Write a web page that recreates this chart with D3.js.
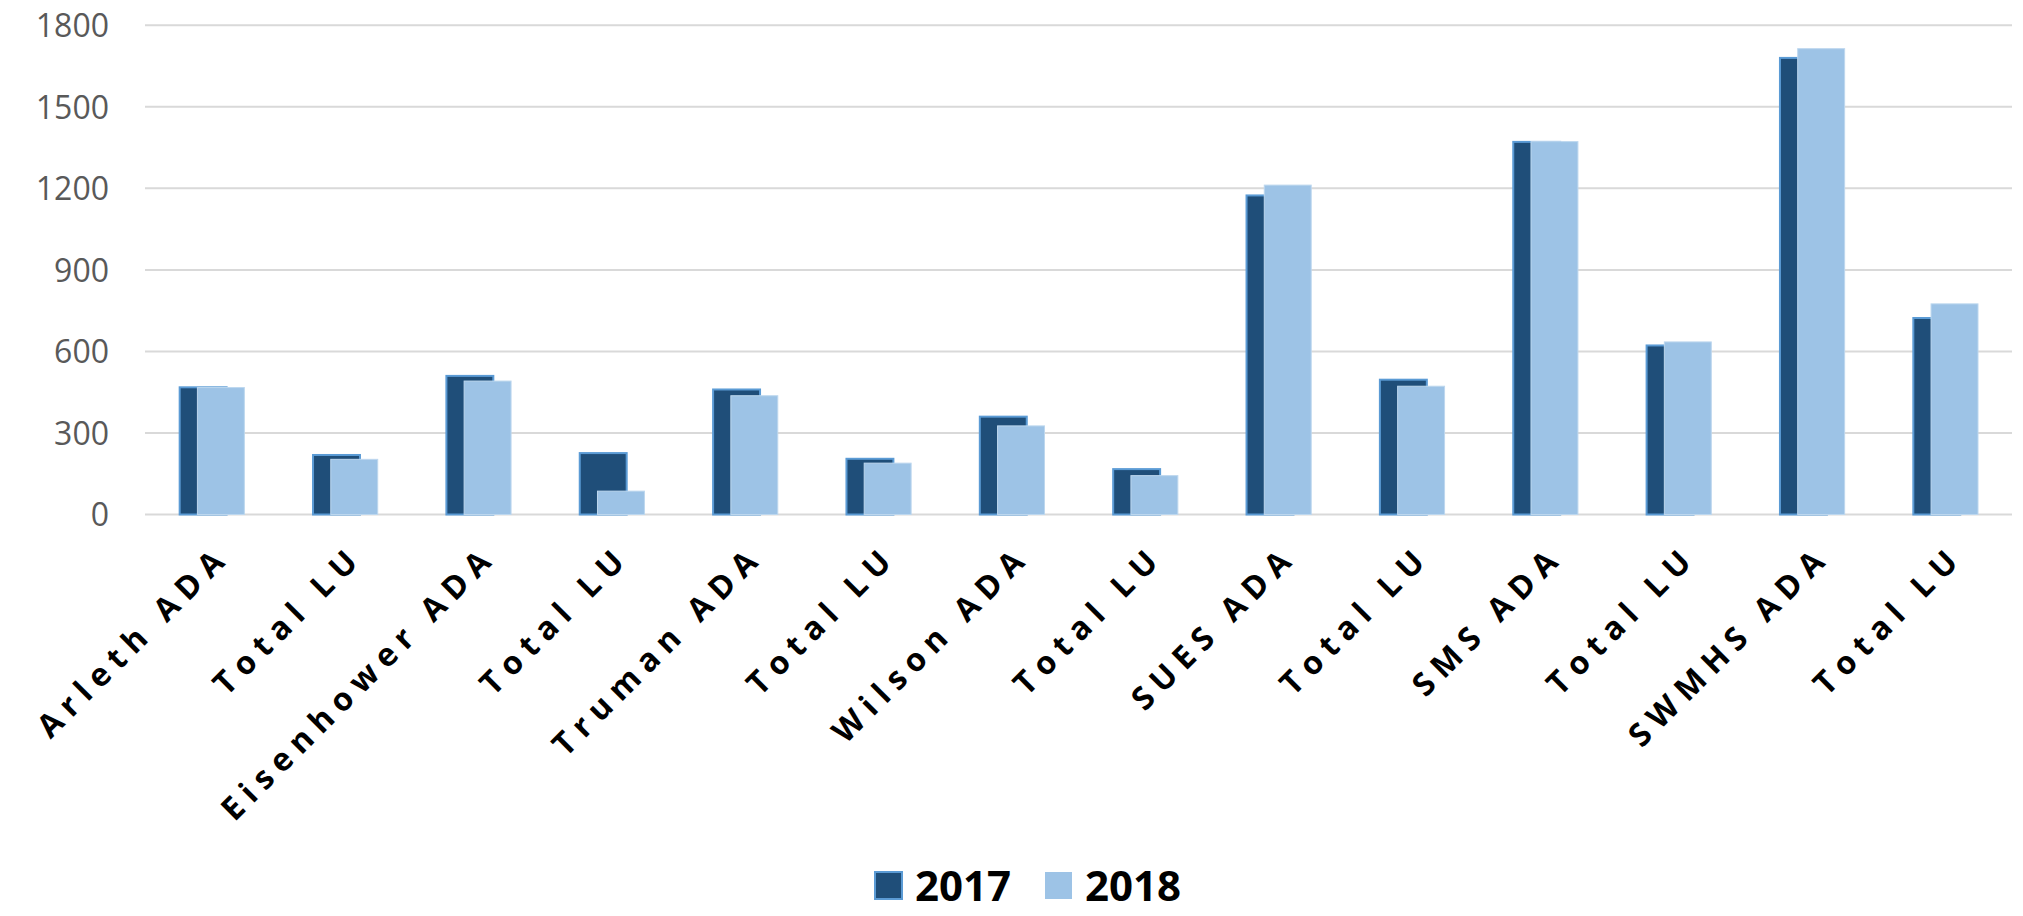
<!DOCTYPE html>
<html>
<head>
<meta charset="utf-8">
<script src="https://cdn.jsdelivr.net/npm/d3@7"></script>
<style>
  body { margin: 0; background: #fff; }
  svg { display: block; }
</style>
</head>
<body>
<div id="chart"></div>
<script>
var categories = ["Arleth ADA", "Total LU", "Eisenhower ADA", "Total LU", "Truman ADA", "Total LU",
                  "Wilson ADA", "Total LU", "SUES ADA", "Total LU", "SMS ADA", "Total LU",
                  "SWMHS ADA", "Total LU"];
var years = ["2017", "2018"];
var values2017 = [468, 219, 510, 226, 460, 205, 360, 167, 1174, 496, 1371, 622, 1680, 723];
var values2018 = [467, 203, 491, 86, 437, 189, 326, 143, 1212, 472, 1372, 635, 1714, 775];
var yTicks = [0, 300, 600, 900, 1200, 1500, 1800];

var width = 2023, height = 916;
var fill = { "2017": "#1f4e79", "2018": "#9dc3e6" };
var edge = { "2017": "#5b9bd5", "2018": "#bdd7ee" };

var svg = d3.select("#chart").append("svg")
            .attr("width", width)
            .attr("height", height);

var x = d3.scaleBand()
          .domain(d3.range(categories.length))
          .range([145, 2012]);

var y = d3.scaleLinear()
          .domain([0, 1800])
          .range([514.5, 25.3]);

var bw = x.bandwidth();
// the two series overlap inside each category
var sub = d3.scalePoint()
            .domain(years)
            .range([bw * 0.26, bw * 0.393]);
var barW = bw * 0.352;

// gridlines
svg.append("g")
   .selectAll("line")
   .data(yTicks)
   .enter().append("line")
   .attr("x1", 145)
   .attr("x2", 2012)
   .attr("y1", function(d){ return y(d); })
   .attr("y2", function(d){ return y(d); })
   .attr("stroke", "#d9d9d9")
   .attr("stroke-width", 2);

// y axis labels
var yAxis = svg.append("g")
   .attr("transform", "translate(109,0)")
   .call(d3.axisLeft(y).tickValues(yTicks).tickFormat(d3.format("d")).tickSize(0).tickPadding(0));
yAxis.select(".domain").remove();
yAxis.selectAll("text")
     .attr("font-family", "Open Sans, sans-serif")
     .attr("font-size", 32)
     .attr("fill", "#595959")
     .attr("dy", "0.35em");

var series = [
  { year: "2017", values: values2017 },
  { year: "2018", values: values2018 }
];

series.forEach(function(s){
  svg.append("g")
     .selectAll("rect")
     .data(s.values)
     .enter().append("rect")
     .attr("x", function(d, i){ return x(i) + sub(s.year); })
     .attr("width", barW)
     .attr("y", function(d){ return y(d); })
     .attr("height", function(d){ return y(0) - y(d); })
     .attr("fill", fill[s.year])
     .attr("stroke", edge[s.year])
     .attr("stroke-width", s.year == "2017" ? 2 : 1);
});

// category labels, rotated
var xAxis = svg.append("g")
   .attr("transform", "translate(0," + y(0) + ")")
   .call(d3.axisBottom(x).tickSize(0).tickFormat(function(i){ return categories[i]; }));
xAxis.select(".domain").remove();
xAxis.selectAll("text")
     .attr("font-family", "Open Sans, sans-serif")
     .attr("font-weight", "bold")
     .attr("font-size", 32)
     .attr("letter-spacing", "8px")
     .attr("fill", "#000")
     .style("text-anchor", "end")
     .attr("x", 0)
     .attr("y", 0)
     .attr("dy", 0)
     .attr("transform", "translate(20,44) rotate(-45)");

// legend
var legend = svg.append("g");
var legendX = { "2017": 875, "2018": 1045 };
years.forEach(function(yr){
  legend.append("rect")
        .attr("x", legendX[yr])
        .attr("y", 872)
        .attr("width", 27)
        .attr("height", 27)
        .attr("fill", fill[yr])
        .attr("stroke", edge[yr])
        .attr("stroke-width", yr == "2017" ? 2 : 0);
  legend.append("text")
        .attr("x", legendX[yr] + 40)
        .attr("y", 901)
        .attr("font-family", "Open Sans, sans-serif")
        .attr("font-weight", "bold")
        .attr("font-size", 42)
        .attr("fill", "#000")
        .text(yr);
});
</script>
</body>
</html>
